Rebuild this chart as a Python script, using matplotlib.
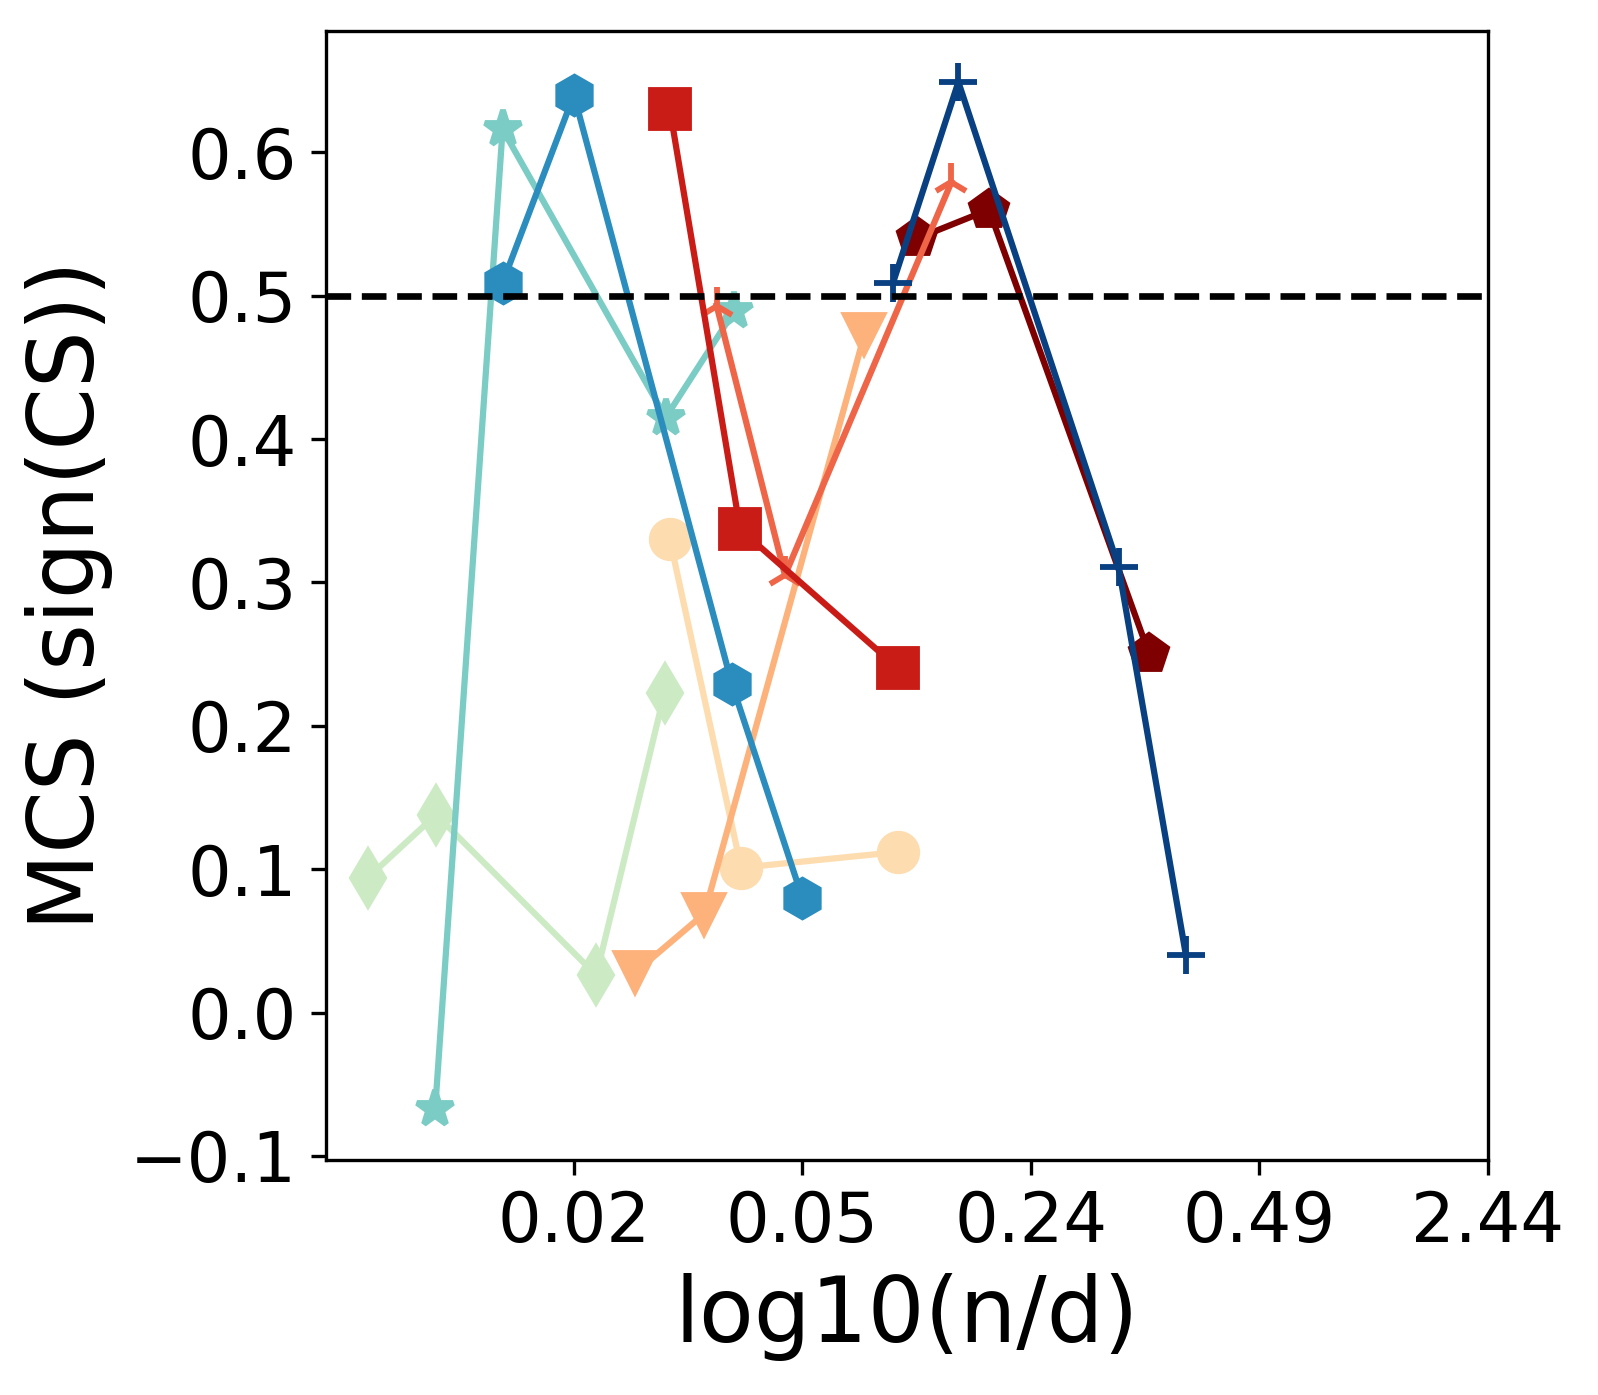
import matplotlib
matplotlib.use("Agg")
import matplotlib.pyplot as plt

# x positions are on the tick index scale (tick k sits at x = k)
tick_pos = [1, 2, 3, 4, 5]
tick_labels = ["0.02", "0.05", "0.24", "0.49", "2.44"]

# (x, y, colour, marker) per series, drawn in this order
green_x = [0.098, 0.397, 1.098, 1.397]
green_y = [0.094, 0.138, 0.026, 0.223]

teal_x = [0.393, 0.688, 1.402, 1.701]
teal_y = [-0.067, 0.616, 0.415, 0.489]

peach_x = [1.420, 1.732, 2.420]
peach_y = [0.330, 0.101, 0.112]

lorange_x = [1.268, 1.571, 2.272]
lorange_y = [0.028, 0.069, 0.473]

dred_x = [2.504, 2.817, 3.518]
dred_y = [0.540, 0.560, 0.250]

coral_x = [1.625, 1.924, 2.652]
coral_y = [0.493, 0.305, 0.579]

red_x = [1.420, 1.728, 2.420]
red_y = [0.630, 0.337, 0.240]

blue_x = [0.688, 1.000, 1.692, 2.000]
blue_y = [0.509, 0.640, 0.229, 0.080]

navy_x = [2.397, 2.683, 3.384, 3.679]
navy_y = [0.509, 0.649, 0.311, 0.040]

series = [
    (green_x, green_y, "#ccebc5", "d"),
    (teal_x, teal_y, "#7bccc4", "*"),
    (peach_x, peach_y, "#fddcaf", "o"),
    (lorange_x, lorange_y, "#fdb27b", "v"),
    (dred_x, dred_y, "#7f0000", "p"),
    (coral_x, coral_y, "#ef6548", "2"),
    (red_x, red_y, "#ca1c16", "s"),
    (blue_x, blue_y, "#2b8cbe", "h"),
    (navy_x, navy_y, "#084081", "+"),
]

fig = plt.figure(figsize=(1598 / 300, 1395 / 300), dpi=300)
ax = fig.add_axes([0.204, 0.1685, 0.727, 0.8095])

for x, y, c, m in series:
    ax.plot(x, y, color=c, marker=m, lw=1.5, ms=9, mew=1.4)

ax.axhline(0.5, color="black", ls="--", lw=1.6)

ax.set_xlim(-0.085, 5.0)
ax.set_xticks(tick_pos)
ax.set_xticklabels(tick_labels)
ax.tick_params(labelsize=16.5)
ax.set_xlabel("log10(n/d)", fontsize=21.5)
ax.set_ylabel("MCS (sign(CS))", fontsize=21.5)

fig.savefig("out.png", dpi=300)
